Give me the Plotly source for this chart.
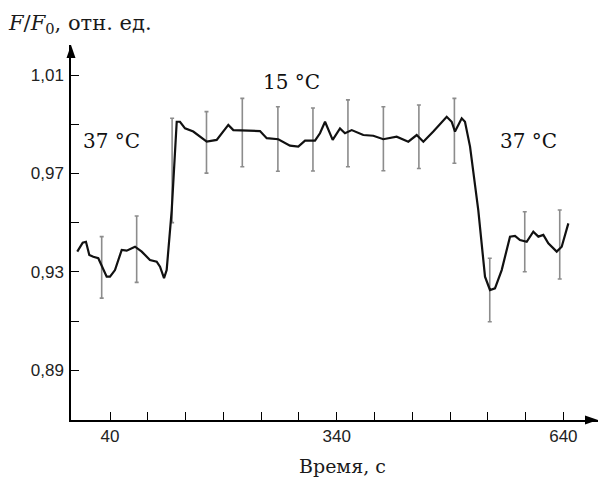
import plotly.graph_objects as go

# ---- data ----
time_s = [-3.3, 3.9, 8.2, 12.6, 17.9, 24.5, 35.6, 40.0, 46.6, 55.5, 62.1, 73.1, 82.0, 92.9,
          101.8, 106.2, 111.5, 115.0, 121.7, 126.0, 128.3, 132.6, 139.3, 150.2, 168.0, 181.2,
          190.0, 196.6, 203.2, 216.4, 238.5, 247.4, 262.7, 278.2, 289.2, 298.1, 311.3, 317.9,
          324.6, 334.7, 344.4, 351.0, 359.9, 375.2, 388.5, 401.7, 419.4, 434.8, 445.9, 454.7,
          467.9, 485.6, 492.2, 496.6, 505.5, 509.8, 516.5, 527.4, 536.3, 542.9, 549.5, 558.4,
          569.4, 576.0, 582.6, 591.5, 600.2, 606.9, 613.5, 620.1, 631.2, 637.8, 646.6]
ratio = [0.9382, 0.9418, 0.9422, 0.9368, 0.9361, 0.9355, 0.9280, 0.9280, 0.9307, 0.9389,
         0.9386, 0.9402, 0.9382, 0.9348, 0.9341, 0.9321, 0.9274, 0.9307, 0.9551, 0.9795,
         0.9910, 0.9910, 0.9883, 0.9870, 0.9829, 0.9836, 0.9870, 0.9897, 0.9876, 0.9874,
         0.9872, 0.9843, 0.9839, 0.9813, 0.9809, 0.9833, 0.9833, 0.9863, 0.9910, 0.9836,
         0.9883, 0.9863, 0.9876, 0.9856, 0.9853, 0.9839, 0.9849, 0.9829, 0.9856, 0.9829,
         0.9870, 0.9930, 0.9910, 0.9870, 0.9924, 0.9910, 0.9809, 0.9551, 0.9280, 0.9226,
         0.9233, 0.9307, 0.9443, 0.9446, 0.9429, 0.9422, 0.9463, 0.9443, 0.9450, 0.9416,
         0.9382, 0.9402, 0.9497]

err_time = [29.0, 75.3, 122.2, 167.7, 215.1, 262.2, 308.6, 354.9, 401.8, 448.8, 495.8,
            542.6, 588.9, 635.2]
err_center = [0.9318, 0.9392, 0.9712, 0.9826, 0.9866, 0.9840, 0.9838, 0.9863, 0.9841,
              0.9849, 0.9873, 0.9226, 0.9422, 0.9411]
err_half = [0.0125, 0.0135, 0.0212, 0.0125, 0.0139, 0.0131, 0.0128, 0.0136, 0.0130,
            0.0129, 0.0132, 0.0129, 0.0122, 0.0140]

x_ticks = [40, 90, 140, 190, 240, 290, 340, 390, 440, 490, 540, 590, 640]
x_labels = ["40", "", "", "", "", "", "340", "", "", "", "", "", "640"]
y_ticks = [0.89, 0.91, 0.93, 0.95, 0.97, 0.99, 1.01]
y_labels = ["0,89", "", "0,93", "", "0,97", "", "1,01"]

labels_text = ["37 °C", "15 °C", "37 °C"]
labels_x = [42.6, 279.6, 594.5]
labels_y = [0.9832, 1.0072, 0.9832]

# ---- figure ----
W, H = 598, 477
ML, MR, MT, MB = 71, 0, 45, 57
PW, PH = W - ML - MR, H - MT - MB

fig = go.Figure()
fig.add_trace(go.Scatter(
    x=err_time, y=err_center, mode="markers",
    marker=dict(size=1, color="rgba(0,0,0,0)"),
    error_y=dict(type="data", array=err_half, symmetric=True,
                 color="#8c8c8c", thickness=1.6, width=2),
    showlegend=False, hoverinfo="skip"))
fig.add_trace(go.Scatter(
    x=time_s, y=ratio, mode="lines",
    line=dict(color="#111111", width=2.2),
    showlegend=False))

for t, xx, yy in zip(labels_text, labels_x, labels_y):
    fig.add_annotation(x=xx, y=yy, text=t, showarrow=False,
                       font=dict(family="DejaVu Serif", size=20, color="#111111"))

fig.add_annotation(xref="paper", yref="paper", x=(342 - ML) / PW, y=-(466 - (H - MB)) / PH,
                   text="Время, с", showarrow=False, xanchor="center", yanchor="middle",
                   font=dict(family="DejaVu Serif", size=19, color="#1a1a1a"))
fig.add_annotation(xref="paper", yref="paper", x=(6 - ML) / PW, y=((H - MB) - 24) / PH,
                   text="<i>F</i>/<i>F</i><sub>0</sub>, отн. ед.", showarrow=False,
                   xanchor="left", yanchor="middle",
                   font=dict(family="DejaVu Serif", size=21, color="#1a1a1a"))

# axis arrowheads (decoration)
ax_len, ax_half = 13, 4.5
fig.add_shape(type="path", xref="paper", yref="paper",
              path=f"M 0 1 L {-ax_half/PW} {1-ax_len/PH} L {ax_half/PW} {1-ax_len/PH} Z",
              fillcolor="black", line=dict(width=0))
fig.add_shape(type="path", xref="paper", yref="paper",
              path=f"M 1 0 L {1-ax_len/PW} {ax_half/PH} L {1-ax_len/PW} {-ax_half/PH} Z",
              fillcolor="black", line=dict(width=0))

x0 = 40 - (110 - ML) * 50 / 37.78
x1 = 40 + (W - ML - MR - (110 - ML)) * 50 / 37.78
y_px = 0.02 / 49.2
y0 = 1.01 - (420 - 75) * y_px
y1 = 1.01 + (75 - MT) * y_px

fig.update_layout(
    width=W, height=H, margin=dict(l=ML, r=MR, t=MT, b=MB),
    paper_bgcolor="white", plot_bgcolor="white",
    xaxis=dict(range=[x0, x1], tickvals=x_ticks, ticktext=x_labels,
               ticks="inside", ticklen=8, tickwidth=1.3, tickcolor="black",
               showline=True, linecolor="black", linewidth=1.5,
               showgrid=False, zeroline=False,
               tickfont=dict(family="Liberation Sans", size=17, color="#222222")),
    yaxis=dict(range=[y0, y1], tickvals=y_ticks, ticktext=y_labels,
               ticks="inside", ticklen=8, tickwidth=1.3, tickcolor="black",
               showline=True, linecolor="black", linewidth=1.5,
               showgrid=False, zeroline=False, ticklabelstandoff=2,
               tickfont=dict(family="Liberation Sans", size=17, color="#222222")),
)

fig.write_html("out.html", config={"displayModeBar": False},
               post_script="document.body.style.margin='0';document.body.style.padding='0';")
